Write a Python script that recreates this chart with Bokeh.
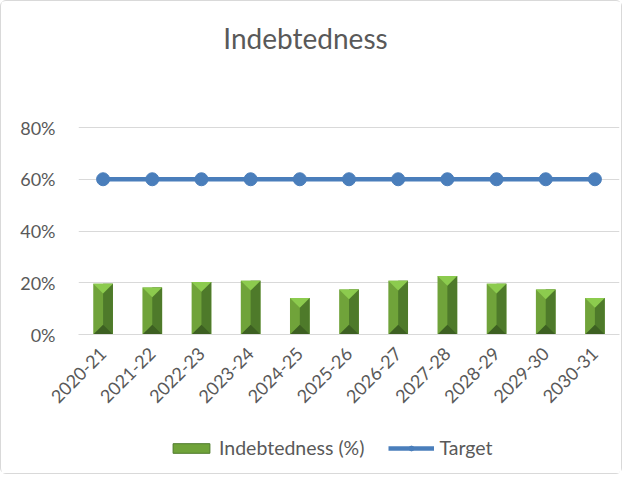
import numpy as np
from bokeh.plotting import figure
from bokeh.layouts import column
from bokeh.models import (Range1d, FixedTicker, PrintfTickFormatter, Legend, LegendItem,
                          ColumnDataSource, Label)
from bokeh.embed import file_html
from bokeh.resources import INLINE

categories = ["2020-21", "2021-22", "2022-23", "2023-24", "2024-25", "2025-26",
              "2026-27", "2027-28", "2028-29", "2029-30", "2030-31"]
indebtedness = [19.6, 18.2, 20.3, 20.8, 14.1, 17.4, 20.8, 22.6, 19.6, 17.4, 14.1]
target = [60, 60, 60, 60, 60, 60, 60, 60, 60, 60, 60]
y_ticks = [0, 20, 40, 60, 80]

FONT = "Lato"
GREY = "#595959"
BAR_MID, BAR_DARK, BAR_LIGHT, BAR_SHADOW = "#70A33A", "#4E7A2A", "#8CCB4E", "#3D6022"
BLUE = "#4A7EBB"

# ---------------- main chart ----------------
p = figure(width=620, height=413, output_backend="svg", toolbar_location=None,
           x_range=Range1d(-0.5, 10.5), y_range=Range1d(0, 127.15),
           min_border_left=77, min_border_right=2, min_border_top=4, min_border_bottom=80)
p.outline_line_color = None
p.background_fill_color = "white"
p.border_fill_color = "white"

x = np.arange(len(categories))
vals = np.array(indebtedness, dtype=float)
hw = 0.2             # half bar width (category units)
depth = 3.8          # bevel depth in y units

src = ColumnDataSource(dict(x=x, top=vals, xr=x + hw / 2, target=target))
p.vbar(x="x", top="top", width=2 * hw, bottom=0, source=src,
       fill_color=BAR_MID, line_color=None)
p.vbar(x="xr", top="top", width=hw, bottom=0, source=src,
       fill_color=BAR_DARK, line_color=None)
top_xs = [[xi - hw, xi + hw, xi] for xi in x]
top_ys = [[v, v, v - depth] for v in vals]
p.patches(top_xs, top_ys, fill_color=BAR_LIGHT, line_color=None)
bot_xs = [[xi - hw, xi + hw, xi] for xi in x]
bot_ys = [[0, 0, depth] for v in vals]
p.patches(bot_xs, bot_ys, fill_color=BAR_SHADOW, line_color=None)

p.line("x", "target", source=src, line_color=BLUE, line_width=4.5)
p.scatter("x", "target", source=src, size=13, fill_color=BLUE, line_color=BLUE)

p.xaxis.ticker = FixedTicker(ticks=list(x))
p.xaxis.major_label_overrides = {int(i): c for i, c in zip(x, categories)}
p.xaxis.major_label_orientation = np.pi / 4
p.xaxis.major_tick_line_color = None
p.xaxis.minor_tick_line_color = None
p.xaxis.axis_line_color = "#D9D9D9"
p.xaxis.major_label_text_font = FONT
p.xaxis.major_label_text_font_size = "18px"
p.xaxis.major_label_text_color = GREY
p.xaxis.major_label_standoff = 10

p.yaxis.ticker = FixedTicker(ticks=y_ticks)
p.yaxis.formatter = PrintfTickFormatter(format="%d%%")
p.yaxis.axis_line_color = None
p.yaxis.major_tick_line_color = None
p.yaxis.minor_tick_line_color = None
p.yaxis.major_label_text_font = FONT
p.yaxis.major_label_text_font_size = "18px"
p.yaxis.major_label_text_color = GREY
p.yaxis.major_label_standoff = 17

p.xgrid.grid_line_color = None
p.ygrid.grid_line_color = "#D9D9D9"
p.ygrid.grid_line_width = 1.2

title = Label(x=4.115, y=114.6, text="Indebtedness", text_align="center",
              text_baseline="middle", text_font=FONT, text_font_size="28px",
              text_color=GREY)
p.add_layout(title)

# ---------------- legend strip ----------------
# legend-key renderers: same categories, values left undefined so nothing is drawn
blank = np.full(len(categories), np.nan)
key_src = ColumnDataSource(dict(x=x, top=blank, target=blank))
lg = figure(width=620, height=59, output_backend="svg", toolbar_location=None,
            x_range=p.x_range, y_range=Range1d(-500, -490),
            x_axis_type=None, y_axis_type=None,
            min_border_left=77, min_border_right=2, min_border_top=5, min_border_bottom=0)
lg.outline_line_color = None
lg.grid.grid_line_color = None
lg.border_fill_color = "white"
r_bar = lg.vbar(x="x", top="top", width=2 * hw, bottom=0, source=key_src,
                fill_color=BAR_MID, line_color=BAR_DARK, line_width=1)
r_line = lg.line("x", "target", source=key_src, line_color=BLUE, line_width=4.5)
r_mark = lg.scatter("x", "target", source=key_src, size=13, fill_color=BLUE, line_color=BLUE)

legend = Legend(items=[LegendItem(label="Indebtedness (%)", renderers=[r_bar]),
                       LegendItem(label="Target", renderers=[r_line, r_mark])],
                orientation="horizontal", location=(90, 14),
                label_text_font=FONT, label_text_font_size="19.5px", label_text_color=GREY,
                glyph_width=46, glyph_height=12, label_standoff=5, spacing=24,
                padding=0, margin=0, border_line_color=None, background_fill_alpha=0)
lg.add_layout(legend, "center")

layout = column(p, lg, spacing=0,
                styles={"border": "1px solid #d9d9d9", "border-radius": "6px"})

open("out.html", "w").write(file_html(layout, INLINE))
